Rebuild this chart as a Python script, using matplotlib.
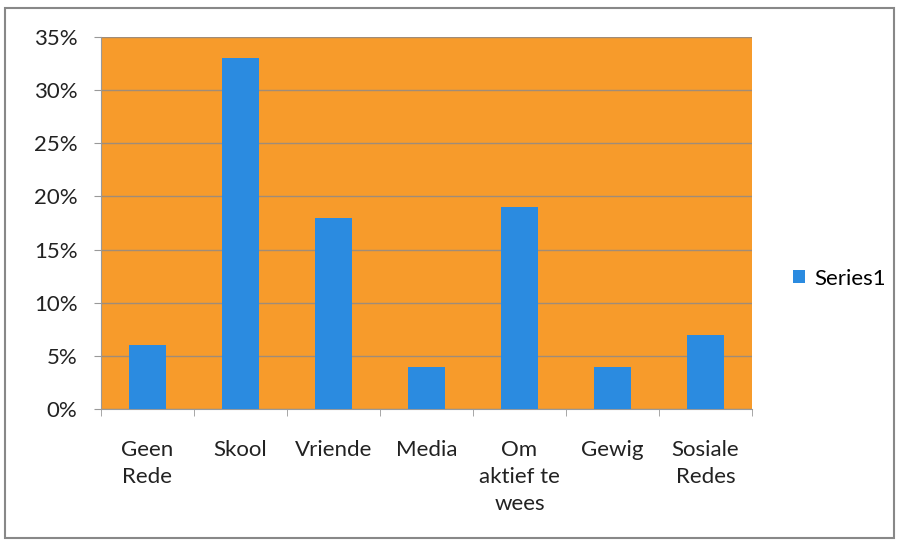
import matplotlib.pyplot as plt
from matplotlib.patches import Rectangle
from matplotlib.ticker import PercentFormatter, FixedLocator

categories = ["Geen\nRede", "Skool", "Vriende", "Media", "Om\naktief te\nwees", "Gewig", "Sosiale\nRedes"]
series1 = [6, 33, 18, 4, 19, 4, 7]
y_ticks = [0, 5, 10, 15, 20, 25, 30, 35]

plt.rcParams["font.family"] = ["Lato", "DejaVu Sans"]

fig = plt.figure(figsize=(8.99, 5.44), dpi=100)
ax = fig.add_axes([0.1123, 0.248, 0.7242, 0.684])

ax.set_facecolor("#F79B2B")
x = list(range(len(categories)))
ax.bar(x, series1, width=0.4, color="#2B8BE0", label="Series1", zorder=3)

ax.set_xlim(-0.5, len(categories) - 0.5)
ax.set_ylim(0, 35)
ax.yaxis.set_major_locator(FixedLocator(y_ticks))
ax.yaxis.set_major_formatter(PercentFormatter(decimals=0))
ax.grid(axis="y", color="#A08C78", linewidth=1, zorder=1)

ax.set_xticks(x)
ax.set_xticklabels(categories, fontsize=16, color="#222222", linespacing=1.45)
ax.tick_params(axis="x", length=0, pad=22)
# category boundary ticks below the axis
ax.set_xticks([i - 0.5 for i in range(len(categories) + 1)], minor=True)
ax.tick_params(axis="x", which="minor", length=5, color="#999999")
ax.tick_params(axis="y", length=5, color="#999999", labelsize=16, labelcolor="#222222", pad=12)

for side in ["top", "right"]:
    ax.spines[side].set_visible(False)
ax.spines["left"].set_color("#999999")
ax.spines["bottom"].set_color("#999999")

fig.legend(loc="center left", bbox_to_anchor=(0.86, 0.488), frameon=False,
           fontsize=16, handlelength=0.55, handleheight=0.55, handletextpad=0.4)

# outer frame around the chart
fig.patches.append(Rectangle((0.006, 0.011), 0.988, 0.975, transform=fig.transFigure,
                             fill=False, edgecolor="#888888", linewidth=1.5))

fig.savefig("out.png", dpi=100)
